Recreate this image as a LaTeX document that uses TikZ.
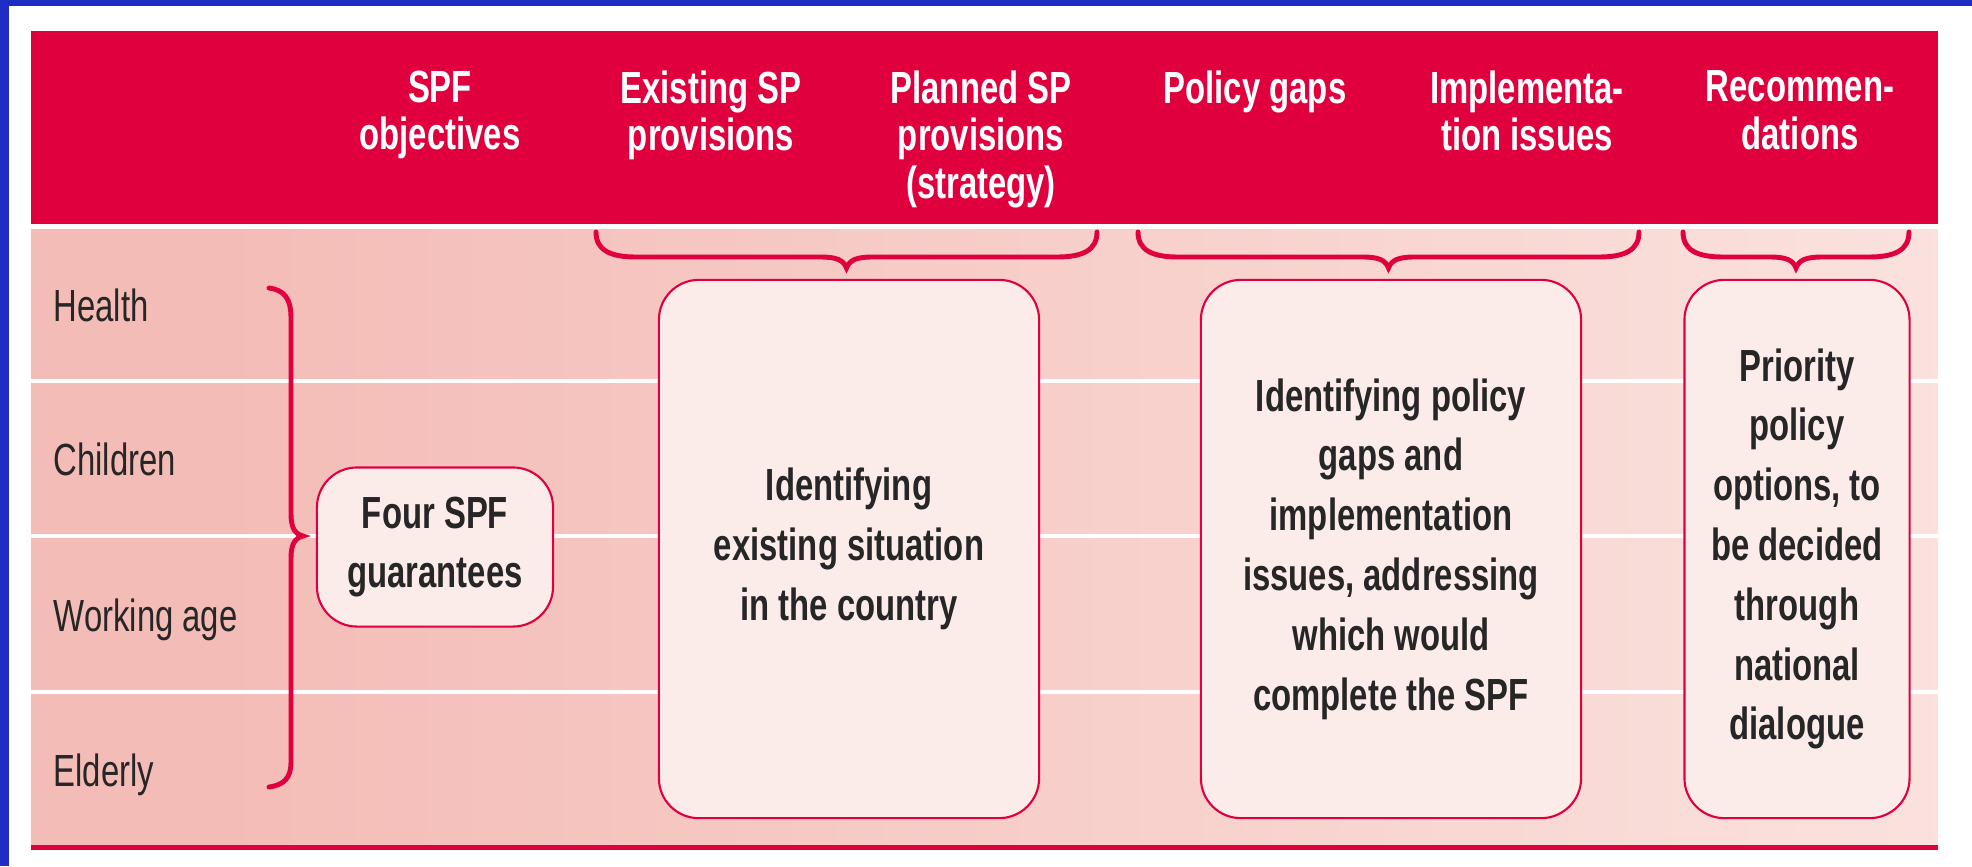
\documentclass[tikz,border=0pt]{standalone}
\usepackage{fontspec}
\setmainfont{Liberation Sans}[FakeStretch=0.73]
\usetikzlibrary{positioning}
\definecolor{spfred}{HTML}{E0003E}
\definecolor{rowpink}{HTML}{F4BCB7}
\definecolor{rowlight}{HTML}{FCEAE6}
\definecolor{boxfill}{HTML}{FCECE9}
\definecolor{labelgrey}{HTML}{262626}
\definecolor{frameblue}{HTML}{1F2DC4}
\pgfdeclarehorizontalshading{bodyfade}{100bp}{color(0bp)=(rowpink); color(30bp)=(rowpink); color(85bp)=(rowlight); color(100bp)=(rowlight)}
\tikzset{
    headtext/.style={
        text=white,
        font=\bfseries\fontsize{12.8}{13.5}\selectfont,
        align=center,
        anchor=north,
        inner sep=0pt,
    },
    rowlabel/.style={
        text=labelgrey,
        font=\fontsize{12.8}{14}\selectfont,
        anchor=base west,
        inner sep=0pt,
    },
    infobox/.style={
        draw=spfred,
        line width=0.6pt,
        fill=boxfill,
        rounded corners=0.4cm,
        text=labelgrey,
        font=\bfseries\fontsize{12.8}{17}\selectfont,
        align=center,
    },
    bracket/.style={
        draw=spfred,
        line width=1.4pt,
        line cap=round,
    },
    rowline/.style={
        draw=white,
        line width=1.4pt,
    },
}

\begin{document}
\begin{tikzpicture}[x=0.01cm,y=-0.01cm]
    \useasboundingbox (0,0) rectangle (1972,866);
    % frame and bands
    \fill[white] (0,0) rectangle (1972,866);
    \fill[frameblue] (0,0) rectangle (1972,6);
    \fill[frameblue] (0,0) rectangle (9,866);
    \fill[spfred] (31,31) rectangle (1938,224);
    \fill[shading=bodyfade] (31,229) rectangle (1938,845);
    \fill[spfred] (31,845) rectangle (1938,850);
    \foreach \y in {381,536,692}
        \draw[rowline] (31,\y) -- (1938,\y);

    % header
    \node[headtext] (objectives) at (440,70) {SPF\\objectives};
    \node[headtext] (existing) at (711,70) {Existing SP\\provisions};
    \node[headtext] (planned) at (981,70) {Planned SP\\provisions\\(strategy)};
    \node[headtext] (gaps) at (1255,70) {Policy gaps};
    \node[headtext] (issues) at (1527,70) {Implementa-\\tion issues};
    \node[headtext] (recs) at (1800,70) {Recommen-\\dations};

    % rows
    \node[rowlabel] (health) at (53,321) {Health};
    \node[rowlabel] (children) at (53,475) {Children};
    \node[rowlabel] (working) at (53,631) {Working age};
    \node[rowlabel] (elderly) at (53,786) {Elderly};

    % braces
    \draw[bracket] (269,288) .. controls (284,290) and (291,298) .. (291,318) -- (291,514)
        .. controls (291,528) and (295,534) .. (303,536)
        .. controls (295,538) and (291,544) .. (291,558) -- (291,762)
        .. controls (291,778) and (284,785) .. (269,787);
    \foreach \a/\b in {596/1097,1138/1639,1683/1909}
        \draw[bracket] (\a,232) .. controls (\a,250) and (\a+14,257) .. (\a+40,257)
            -- ({(\a+\b)/2-26},257) .. controls ({(\a+\b)/2-10},257) and ({(\a+\b)/2-3},260) .. ({(\a+\b)/2},268)
            .. controls ({(\a+\b)/2+3},260) and ({(\a+\b)/2+10},257) .. ({(\a+\b)/2+26},257)
            -- (\b-40,257) .. controls (\b-14,257) and (\b,250) .. (\b,232);

    % boxes
    \node[infobox, minimum width=2.36cm, minimum height=1.59cm] (guarantees) at (435,547) {Four SPF\\guarantees};
    \node[infobox, minimum width=3.8cm, minimum height=5.38cm] (situation) at (849,549) {Identifying\\existing situation\\in the country};
    \node[infobox, minimum width=3.8cm, minimum height=5.38cm] (policygaps) at (1391,549) {Identifying policy\\gaps and\\implementation\\issues, addressing\\which would\\complete the SPF};
    \node[infobox, minimum width=2.25cm, minimum height=5.38cm] (priority) at (1797,549) {Priority\\policy\\options, to\\be decided\\through\\national\\dialogue};
\end{tikzpicture}
\end{document}
